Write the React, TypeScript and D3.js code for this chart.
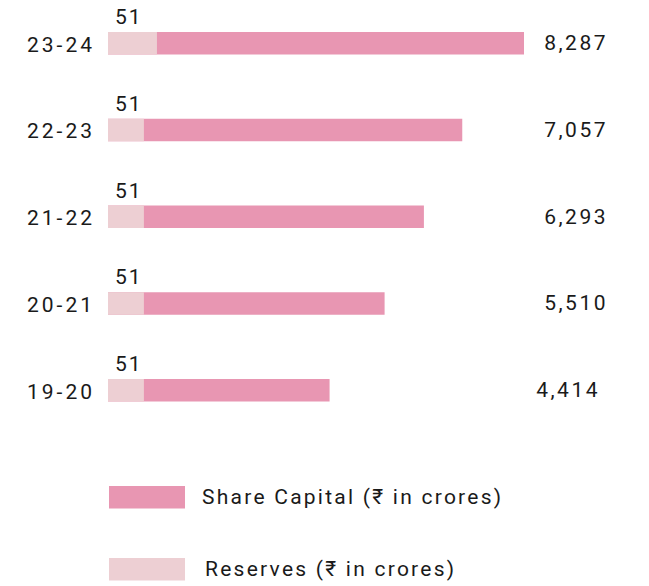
import React from "react";
import * as d3 from "d3";

const categories = ["23-24", "22-23", "21-22", "20-21", "19-20"];
const shareCapital = [8287, 7057, 6293, 5510, 4414];
const reserves = [51, 51, 51, 51, 51];
// drawn width of the light (reserves) segment, in the same units as the axis
const reservesDrawn = [975, 715, 715, 715, 715];
const legendLabels = ["Share Capital (₹ in crores)", "Reserves (₹ in crores)"];

const W = 649;
const H = 586;
const DARK = "#E896B2";
const LIGHT = "#EDCFD3";
const TEXT = "#1a1a1a";
const FONT = "Roboto, 'Noto Sans', sans-serif";

export default function App() {
  const x = d3.scaleLinear().domain([0, d3.max(shareCapital) as number]).range([108, 524]);
  const y = d3
    .scaleBand<string>()
    .domain(categories)
    .range([32, 401.5])
    .paddingInner(1 - 22.5 / 86.75)
    .paddingOuter(0);
  const bw = y.bandwidth();
  const fmt = d3.format(",");

  return (
    <svg
      width={W}
      height={H}
      style={{ position: "absolute", left: 0, top: 0, background: "#fff" }}
      fontFamily={FONT}
    >
      {categories.map((c, i) => {
        const top = y(c) as number;
        return (
          <g key={c}>
            <rect x={x(0)} y={top} width={x(shareCapital[i]) - x(0)} height={bw} fill={DARK} />
            <rect x={x(0)} y={top} width={x(reservesDrawn[i]) - x(0)} height={bw} fill={LIGHT} />
            <text
              x={95}
              y={top + 19.5}
              textAnchor="end"
              fontSize={21}
              letterSpacing={3}
              fill={TEXT}
            >
              {c}
            </text>
            <text x={115} y={top - 8} fontSize={21} letterSpacing={2} fill={TEXT}>
              {reserves[i]}
            </text>
            <text
              x={i === categories.length - 1 ? 600 : 608}
              y={top + 18}
              textAnchor="end"
              fontSize={21}
              letterSpacing={2.5}
              fill={TEXT}
            >
              {fmt(shareCapital[i])}
            </text>
          </g>
        );
      })}
      {legendLabels.map((l, i) => {
        const ly = 486 + i * 72;
        return (
          <g key={l}>
            <rect x={109} y={ly} width={76} height={22.5} fill={i === 0 ? DARK : LIGHT} />
            <text
              x={i === 0 ? 202 : 205}
              y={ly + 17.5}
              fontSize={21}
              letterSpacing={2.25}
              fill={TEXT}
            >
              {l}
            </text>
          </g>
        );
      })}
    </svg>
  );
}
